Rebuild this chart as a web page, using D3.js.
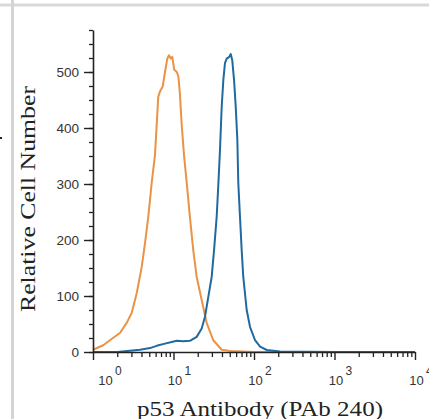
<!DOCTYPE html>
<html>
<head>
<meta charset="utf-8">
<script src="https://cdn.jsdelivr.net/npm/d3@7"></script>
<style>
  body { margin: 0; background: #fff; }
  svg { display: block; }
</style>
</head>
<body>
<script>
// isotype control (orange) and p53 stained (blue), fluorescence vs count
const orangeIntensity = [1.0, 1.34, 1.77, 2.16, 2.62, 3.03, 3.49, 4.03, 4.43, 4.86, 5.36, 5.89, 6.47, 6.79, 7.34, 7.84, 8.38, 8.79, 9.23, 9.66, 10.2, 11.0, 11.5, 12.0, 12.6, 13.5, 14.6, 16.0, 17.6, 19.4, 22.4, 25.8, 31.2, 39.7, 50.3, 100, 1000, 10000];
const orangeCount = [4, 12, 25, 34, 52, 70, 105, 152, 195, 241, 302, 352, 456, 465, 474, 500, 524, 530, 524, 527, 504, 500, 492, 462, 409, 352, 302, 241, 182, 134, 93, 52, 21, 4, 2, 0, 0, 0];

const blueIntensity = [1, 2, 3.84, 5.10, 6.18, 7.84, 9.50, 10.96, 13.2, 16.0, 19.4, 22.4, 24.6, 27.1, 29.8, 31.9, 34.4, 36.1, 37.8, 39.7, 41.6, 43.6, 45.8, 49.3, 51.4, 53.7, 56.5, 59.3, 62.1, 63.8, 67.0, 70.3, 73.6, 81.1, 89.2, 103, 119, 144, 210, 1000, 10000];
const blueCount = [0, 0, 4, 7, 11, 15, 18, 20, 19, 20, 27, 42, 63, 99, 134, 182, 242, 301, 361, 438, 486, 516, 524, 527, 532, 521, 486, 438, 379, 302, 241, 182, 134, 75, 45, 21, 9.5, 3.6, 1, 0, 0];

const yTicks = [0, 100, 200, 300, 400, 500];
const xDecades = [0, 1, 2, 3, 4];

const W = 429, H = 419;
const svg = d3.select("body").append("svg")
    .attr("width", W)
    .attr("height", H);

// page frame bits from the screenshot
svg.append("line").attr("x1", 0).attr("x2", W).attr("y1", 5).attr("y2", 5)
    .attr("stroke", "#d9d9d9").attr("stroke-width", 3);
svg.append("line").attr("x1", 12.5).attr("x2", 12.5).attr("y1", 0).attr("y2", H)
    .attr("stroke", "#d4d4d4").attr("stroke-width", 3);
svg.append("rect").attr("x", 0).attr("y", 137).attr("width", 2).attr("height", 2).attr("fill", "#222");

const x = d3.scaleLog().domain([1, 10000]).range([93, 415]);
const y = d3.scaleLinear().domain([0, 575]).range([352, 30]);

// minor ticks
const xMinor = [];
for (let e = 0; e < 4; e++) for (let k = 2; k <= 9; k++) xMinor.push(k * Math.pow(10, e));

svg.append("g")
    .attr("transform", "translate(0,352)")
    .call(d3.axisBottom(x).tickValues(xMinor).tickSize(5).tickFormat("").tickSizeOuter(0))
    .call(g => g.select(".domain").remove())
    .selectAll("line").attr("stroke", "#222").attr("stroke-width", 1.3);

svg.append("g")
    .attr("transform", "translate(93,0)")
    .call(d3.axisLeft(y).tickValues(d3.range(0, 576, 25)).tickSize(4).tickFormat("").tickSizeOuter(0))
    .call(g => g.select(".domain").remove())
    .selectAll("line").attr("stroke", "#222").attr("stroke-width", 1.3);

// curves
const line = d3.line()
    .x(d => x(d[0]))
    .y(d => y(d[1]));

svg.append("path")
    .datum(d3.zip(orangeIntensity, orangeCount))
    .attr("fill", "none")
    .attr("stroke", "#ea9247")
    .attr("stroke-width", 2)
    .attr("stroke-linejoin", "round")
    .attr("d", line);

svg.append("path")
    .datum(d3.zip(blueIntensity, blueCount))
    .attr("fill", "none")
    .attr("stroke", "#1f6a9e")
    .attr("stroke-width", 2)
    .attr("stroke-linejoin", "round")
    .attr("d", line);

// major axes
const yAxis = svg.append("g")
    .attr("transform", "translate(93,0)")
    .call(d3.axisLeft(y).tickValues(yTicks).tickSize(9).tickPadding(5).tickSizeOuter(0));
yAxis.select(".domain").attr("stroke", "#222").attr("stroke-width", 1.6);
yAxis.selectAll("line").attr("stroke", "#222").attr("stroke-width", 1.4);
yAxis.selectAll("text")
    .attr("font-family", "'Liberation Sans', Arial, sans-serif")
    .attr("font-size", 13.5)
    .attr("fill", "#333");

const xAxis = svg.append("g")
    .attr("transform", "translate(0,352)")
    .call(d3.axisBottom(x).tickValues(xDecades.map(e => Math.pow(10, e))).tickSize(8).tickFormat("").tickSizeOuter(0));
xAxis.select(".domain").attr("stroke", "#222").attr("stroke-width", 1.6);
xAxis.selectAll("line").attr("stroke", "#222").attr("stroke-width", 1.4);

// 10^n labels
const xl = svg.append("g")
    .attr("font-family", "'Liberation Sans', Arial, sans-serif")
    .attr("font-size", 13)
    .attr("fill", "#333");
xDecades.forEach(e => {
    const cx = x(Math.pow(10, e)) + (e === 0 ? 12.5 : 1.5);
    xl.append("text").attr("x", cx).attr("y", 385).attr("text-anchor", "middle").text("10");
    xl.append("text").attr("x", cx + 9.5).attr("y", 375).attr("font-size", 12).text(e);
});

// titles
svg.append("text")
    .attr("x", 260)
    .attr("y", 416)
    .attr("text-anchor", "middle")
    .attr("font-family", "'Liberation Serif', 'Times New Roman', serif")
    .attr("font-size", 22)
    .attr("fill", "#222")
    .attr("textLength", 246)
    .attr("lengthAdjust", "spacingAndGlyphs")
    .text("p53 Antibody (PAb 240)");

svg.append("text")
    .attr("transform", "translate(35,199) rotate(-90)")
    .attr("text-anchor", "middle")
    .attr("font-family", "'Liberation Serif', 'Times New Roman', serif")
    .attr("font-size", 22)
    .attr("fill", "#222")
    .attr("textLength", 226)
    .attr("lengthAdjust", "spacingAndGlyphs")
    .text("Relative Cell Number");
</script>
</body>
</html>
